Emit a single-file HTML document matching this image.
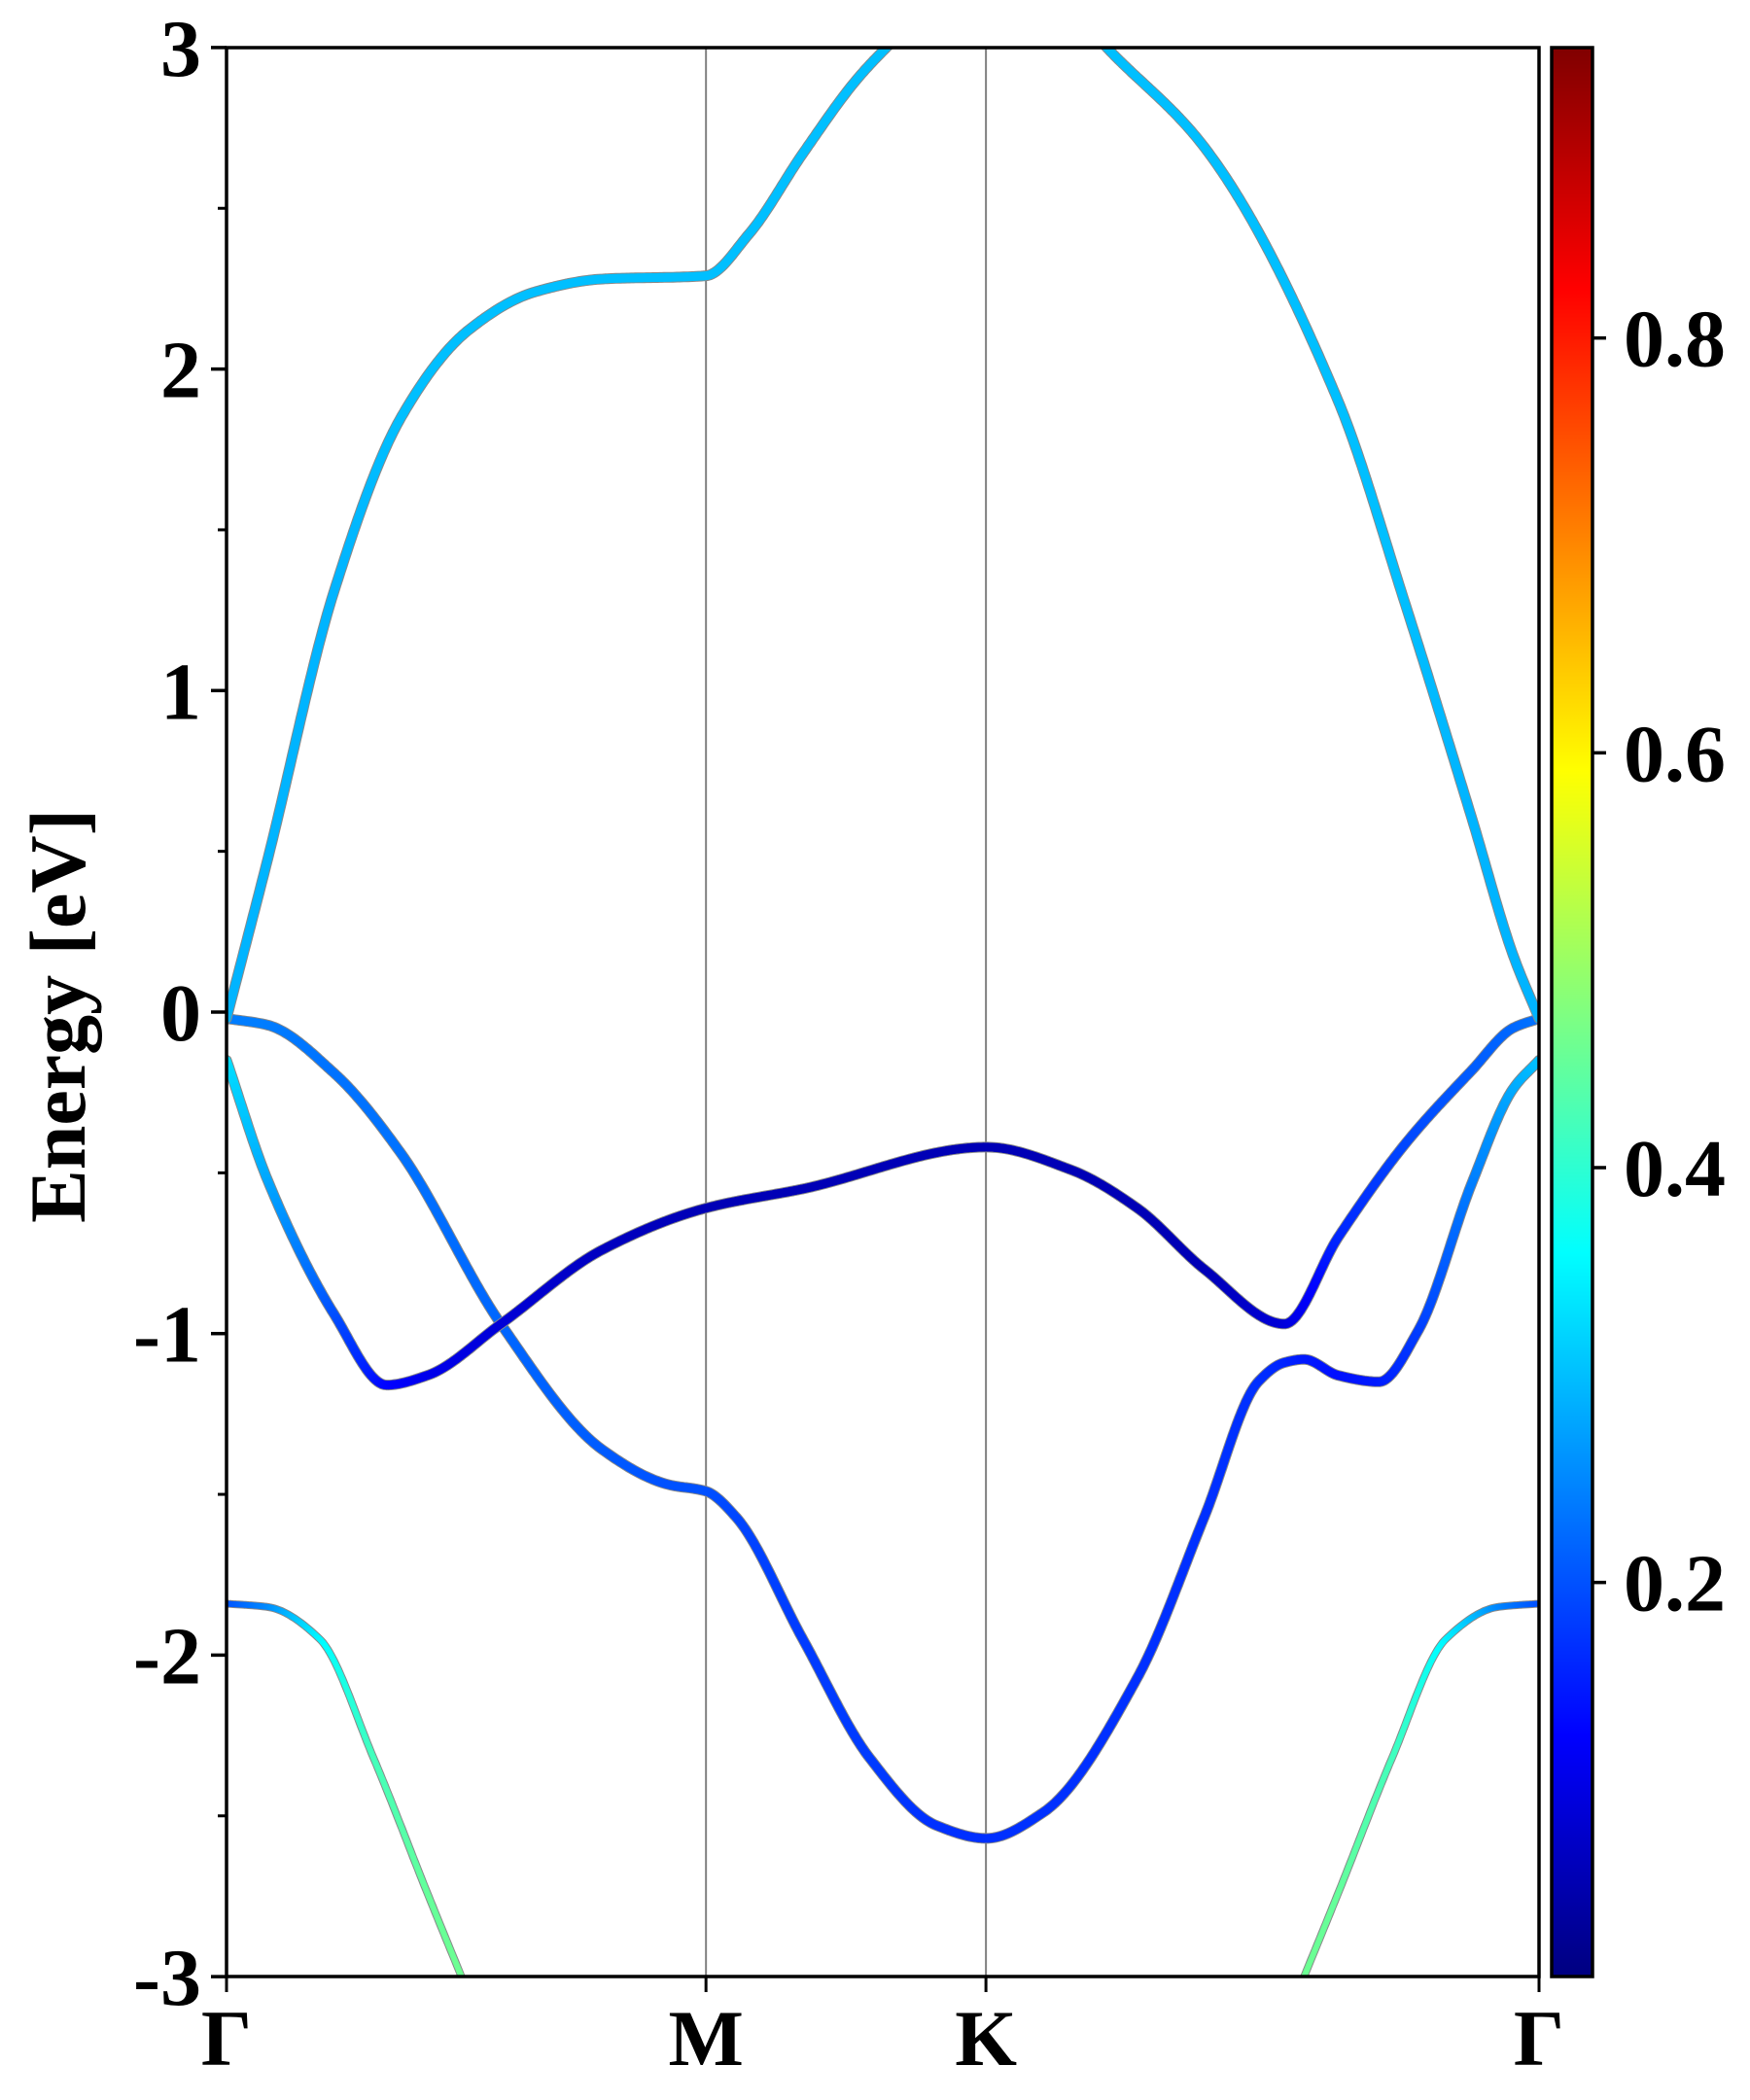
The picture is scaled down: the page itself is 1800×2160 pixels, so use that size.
<!DOCTYPE html>
<html><head><meta charset="utf-8">
<style>
html,body{margin:0;padding:0;background:#fff;}
svg{display:block;}
text{font-family:"Liberation Serif",serif;font-weight:bold;fill:#000;}
</style></head>
<body>
<svg id="chart" width="1800" height="2160" viewBox="0 0 1800 2160" xmlns="http://www.w3.org/2000/svg">
<defs>
<clipPath id="plotclip"><rect x="233" y="49" width="1350" height="1984"/></clipPath>
<linearGradient id="jetgrad" x1="0" y1="1" x2="0" y2="0"></linearGradient>
</defs>
<g id="bands" clip-path="url(#plotclip)"></g>
<g id="axes"></g>
</svg>
<script>
const kLabels = ["Γ","M","K","Γ"];
const kTicks = [0, 0.3653, 0.5786, 1];
const yTicks = [-3,-2,-1,0,1,2,3];
const yMinor = [-2.5,-1.5,-0.5,0.5,1.5,2.5];
const cbTicks = [0.2,0.4,0.6,0.8];
const cbMin = 0.01, cbMax = 0.94;

const band1K = [0,.031,.082,.133,.184,.235,.286,.365,.398,.439,.480,.510,.579,.643,.673,.745,.847,.898,.949,.980,1];
const band1E = [-0.02,0.47,1.31,1.85,2.12,2.24,2.28,2.29,2.42,2.67,2.90,3.03,3.3,3.12,2.99,2.69,1.90,1.27,0.60,0.18,-0.02];
const band1W = [0.29,0.29,0.29,0.30,0.30,0.30,0.30,0.30,0.30,0.30,0.30,0.30,0.30,0.30,0.30,0.30,0.30,0.30,0.29,0.29,0.29];

const band2K = [0,.031,.082,.133,.209,.286,.337,.365,.388,.439,.490,.541,.579,.622,.694,.745,.786,.806,.821,.847,.878,.908,.949,.980,1];
const band2E = [-0.02,-0.04,-0.19,-0.44,-0.97,-1.36,-1.47,-1.49,-1.57,-1.95,-2.32,-2.53,-2.57,-2.49,-2.07,-1.57,-1.15,-1.09,-1.08,-1.13,-1.15,-0.99,-0.53,-0.24,-0.15];
const band2W = [0.24,0.24,0.23,0.23,0.22,0.21,0.20,0.20,0.19,0.18,0.18,0.17,0.17,0.17,0.17,0.17,0.17,0.16,0.15,0.14,0.15,0.18,0.24,0.28,0.30];

const band3K = [0,.031,.082,.122,.153,.209,.286,.365,.439,.579,.643,.694,.745,.806,.847,.898,.949,.980,1];
const band3E = [-0.15,-0.52,-0.94,-1.16,-1.13,-0.97,-0.74,-0.61,-0.55,-0.42,-0.49,-0.61,-0.80,-0.97,-0.70,-0.41,-0.18,-0.05,-0.02];
const band3W = [0.33,0.28,0.20,0.13,0.11,0.09,0.07,0.06,0.06,0.06,0.06,0.06,0.06,0.09,0.16,0.19,0.21,0.22,0.23];

const band4aK = [0,.031,.071,.112,.153,.184];
const band4aE = [-1.84,-1.85,-1.95,-2.32,-2.74,-3.05];
const band4aW = [0.20,0.25,0.35,0.42,0.45,0.46];
const band4bK = [.816,.847,.888,.929,.969,1];
const band4bE = [-3.05,-2.74,-2.32,-1.95,-1.85,-1.84];
const band4bW = [0.46,0.45,0.42,0.35,0.25,0.20];

const X0=233, X1=1583, Y0=1041, PERV=330.7;
const xs = k => X0 + k*(X1-X0);
const ys = e => Y0 - e*PERV;
const NS="http://www.w3.org/2000/svg";
function mk(tag, attrs, parent){const el=document.createElementNS(NS,tag);for(const a in attrs)el.setAttribute(a,attrs[a]);parent.appendChild(el);return el;}

function jet(v){
  const t=Math.max(0,Math.min(1,(v-cbMin)/(cbMax-cbMin)));
  const f=x=>Math.max(0,Math.min(1,1.5-Math.abs(4*t-x)));
  return `rgb(${Math.round(f(3)*255)},${Math.round(f(2)*255)},${Math.round(f(1)*255)})`;
}
function monoSpline(X,Y){
  const n=X.length,d=[],m=new Array(n);
  for(let i=0;i<n-1;i++)d.push((Y[i+1]-Y[i])/(X[i+1]-X[i]));
  m[0]=d[0];m[n-1]=d[n-2];
  for(let i=1;i<n-1;i++){
    if(d[i-1]*d[i]<=0)m[i]=0;
    else{const h0=X[i]-X[i-1],h1=X[i+1]-X[i];const w1=2*h1+h0,w2=h1+2*h0;m[i]=(w1+w2)/(w1/d[i-1]+w2/d[i]);}
  }
  return function(x){
    let i=0;while(i<n-2&&x>X[i+1])i++;
    const h=X[i+1]-X[i],t=(x-X[i])/h,t2=t*t,t3=t2*t;
    return (2*t3-3*t2+1)*Y[i]+(t3-2*t2+t)*h*m[i]+(-2*t3+3*t2)*Y[i+1]+(t3-t2)*h*m[i+1];
  };
}
function lin(X,Y,x){let i=0;while(i<X.length-2&&x>X[i+1])i++;const t=(x-X[i])/(X[i+1]-X[i]);return Y[i]+(Y[i+1]-Y[i])*t;}

const bandsG=document.getElementById('bands');
function drawBand(K,E,W,name,width){
  const g=mk('g',{},bandsG);
  
  
  const sp=monoSpline(K,E);
  const k0=K[0],k1=K[K.length-1],N=Math.max(40,Math.round((k1-k0)*600));
  const pts=[];
  for(let j=0;j<=N;j++){const k=k0+(k1-k0)*j/N;pts.push([k,sp(k),lin(K,W,k)]);}
  let d='';
  pts.forEach((p,j)=>{d+=(j?'L':'M')+xs(p[0]).toFixed(1)+' '+ys(p[1]).toFixed(1);});
  mk('path',{d:d,fill:'none',stroke:'#888','stroke-width':width+2,'stroke-linecap':'round','stroke-linejoin':'round'},g);
  for(let j=0;j<pts.length-1;j++){
    const a=pts[j],b=pts[j+1];
    const seg=mk('line',{x1:xs(a[0]),y1:ys(a[1]),x2:xs(b[0]),y2:ys(b[1]),stroke:jet((a[2]+b[2])/2),'stroke-width':width,'stroke-linecap':'round'},g);
    
    
  }
}
const axesG=document.getElementById('axes');
[1,2].forEach(i=>{
  const l=mk('line',{x1:xs(kTicks[i]),y1:49,x2:xs(kTicks[i]),y2:2033,stroke:'#808080','stroke-width':2},bandsG);
  
  
});
drawBand(band4aK,band4aE,band4aW,'band-4-left',6);
drawBand(band4bK,band4bE,band4bW,'band-4-right',6);
drawBand(band2K,band2E,band2W,'band-2',9);
drawBand(band3K,band3E,band3W,'band-3',9);
drawBand(band1K,band1E,band1W,'band-1',9);

const fr=mk('rect',{x:233,y:49,width:1350,height:1984,fill:'none',stroke:'#000','stroke-width':3.5},axesG);


yTicks.forEach(v=>{
  const y=ys(v);
  const t=mk('line',{x1:217,y1:y,x2:233,y2:y,stroke:'#000','stroke-width':3.5},axesG);
  
  
  const tx=mk('text',{x:207,y:y+29,'text-anchor':'end','font-size':84},axesG);
  tx.textContent=String(v);
  
  
});
yMinor.forEach(v=>{
  const t=mk('line',{x1:224,y1:ys(v),x2:233,y2:ys(v),stroke:'#000','stroke-width':3},axesG);
  
  
});
kTicks.forEach((k,i)=>{
  const x=xs(k);
  const t=mk('line',{x1:x,y1:2033,x2:x,y2:2049,stroke:'#000','stroke-width':3},axesG);
  
  
  const tx=mk('text',{x:x,y:2124,'text-anchor':'middle','font-size':82},axesG);
  tx.textContent=kLabels[i];
  
  
});
const yt=mk('text',{x:0,y:0,'text-anchor':'middle','font-size':82,transform:'translate(87,1045) rotate(-90)'},axesG);
yt.textContent='Energy [eV]';



const grad=document.getElementById('jetgrad');
for(let i=0;i<=40;i++){
  const v=cbMin+(cbMax-cbMin)*i/40;
  mk('stop',{offset:(i/40).toFixed(3),'stop-color':jet(v)},grad);
}
const CB0=49,CB1=2033;
const cbY=v=>CB1-(v-cbMin)/(cbMax-cbMin)*(CB1-CB0);
const cb=mk('rect',{x:1596,y:CB0,width:42,height:CB1-CB0,fill:'url(#jetgrad)',stroke:'#000','stroke-width':3.5},axesG);


cbTicks.forEach(v=>{
  const y=cbY(v);
  const t=mk('line',{x1:1638,y1:y,x2:1652,y2:y,stroke:'#000','stroke-width':3.5},axesG);
  
  
  const tx=mk('text',{x:1670,y:y+29,'font-size':84},axesG);
  tx.textContent=v.toFixed(1);
  
  
});
</script>
</body></html>
